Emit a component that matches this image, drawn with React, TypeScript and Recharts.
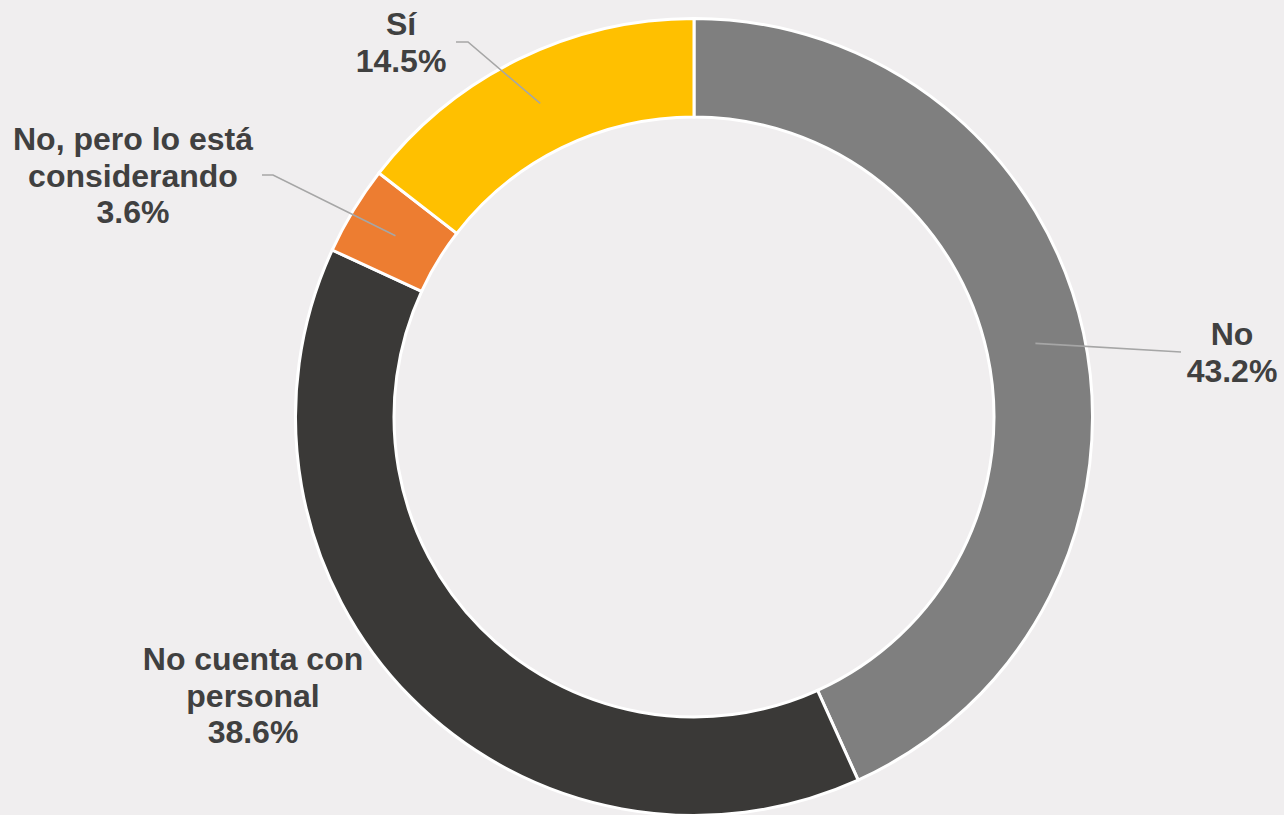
import React from "react";
import { PieChart, Pie, Cell } from "recharts";

const categories = ["No", "No cuenta con personal", "No, pero lo está considerando", "Sí"];
const shares = [43.2, 38.6, 3.6, 14.5];
const labelText = [["No"], ["No cuenta con", "personal"], ["No, pero lo está", "considerando"], ["Sí"]];
const sliceColors = ["#7F7F7F", "#3A3937", "#ED7D31", "#FFC000"];

const data = categories.map((name, i) => ({ name, value: shares[i] }));

// label block placement, offsets from the pie centre (x = text centre, y = first baseline)
const labelLayout = [
  { x: 538, y: -72, leader: [[487, -65]] },
  { x: -441, y: 253, leader: [] as number[][] },
  { x: -561, y: -267, leader: [[-432, -242], [-421, -242]] },
  { x: -293, y: -382, leader: [[-238, -375], [-226, -375]] },
];

const RADIAN = Math.PI / 180;

function renderLabel(props: any) {
  const { cx, cy, midAngle, innerRadius, outerRadius, index } = props;
  const r = (innerRadius + outerRadius) / 2;
  const ax = cx + r * Math.cos(-midAngle * RADIAN);
  const ay = cy + r * Math.sin(-midAngle * RADIAN);
  const lay = labelLayout[index];
  const lines = [...labelText[index], `${shares[index].toFixed(1)}%`];
  const pts = lay.leader.map(([dx, dy]) => `${cx + dx},${cy + dy}`);

  return (
    <g key={`lbl-${index}`}>
      {pts.length > 0 && (
        <polyline
          points={[...pts, `${ax},${ay}`].join(" ")}
          fill="none"
          stroke="#A6A6A6"
          strokeWidth={1.6}
        />
      )}
      <text
        x={cx + lay.x}
        y={cy + lay.y}
        textAnchor="middle"
        fill="#404040"
        fontSize={32}
        fontWeight="bold"
        fontFamily="'Liberation Sans', Arial, sans-serif"
      >
        {lines.map((t, i) => (
          <tspan key={i} x={cx + lay.x} y={cy + lay.y + i * 36.5}>
            {t}
          </tspan>
        ))}
      </text>
    </g>
  );
}

export default function App() {
  return (
    <div
      style={{
        position: "absolute",
        left: 0,
        top: 0,
        width: 1284,
        height: 815,
        background: "#F0EEEF",
      }}
    >
      <PieChart width={1284} height={815} margin={{ top: 0, right: 0, bottom: 0, left: 0 }}>
        <Pie
          data={data}
          dataKey="value"
          nameKey="name"
          cx={694}
          cy={417}
          innerRadius={300}
          outerRadius={398.5}
          startAngle={90}
          endAngle={-270}
          stroke="#FFFFFF"
          strokeWidth={3}
          labelLine={false}
          label={renderLabel}
          isAnimationActive={false}
        >
          {data.map((d, i) => (
            <Cell key={d.name} fill={sliceColors[i]} />
          ))}
        </Pie>
      </PieChart>
    </div>
  );
}
